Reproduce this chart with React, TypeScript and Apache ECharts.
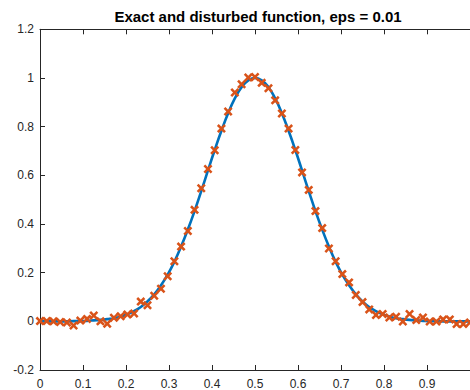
import React, { useEffect, useRef } from "react";
import * as echarts from "echarts";

const titleText = "Exact and disturbed function, eps = 0.01";

const sampleX = [
  0, 0.0156, 0.0313, 0.0469, 0.0625, 0.0781, 0.0938, 0.1094, 0.125, 0.1406,
  0.1563, 0.1719, 0.1875, 0.2031, 0.2188, 0.2344, 0.25, 0.2656, 0.2813, 0.2969,
  0.3125, 0.3281, 0.3438, 0.3594, 0.375, 0.3906, 0.4063, 0.4219, 0.4375, 0.4531,
  0.4688, 0.4844, 0.5, 0.5156, 0.5313, 0.5469, 0.5625, 0.5781, 0.5938, 0.6094,
  0.625, 0.6406, 0.6563, 0.6719, 0.6875, 0.7031, 0.7188, 0.7344, 0.75, 0.7656,
  0.7813, 0.7969, 0.8125, 0.8281, 0.8438, 0.8594, 0.875, 0.8906, 0.9063, 0.9219,
  0.9375, 0.9531, 0.9688, 0.9844, 1,
];

const exactY = [
  0.0, 0.0, 0.0, 0.0, 0.0, 0.001, 0.001, 0.002, 0.004, 0.006,
  0.009, 0.013, 0.02, 0.029, 0.042, 0.059, 0.082, 0.111, 0.148, 0.192,
  0.245, 0.307, 0.377, 0.453, 0.535, 0.62, 0.704, 0.783, 0.855, 0.916,
  0.962, 0.99, 1.0, 0.99, 0.962, 0.916, 0.855, 0.783, 0.704, 0.62,
  0.535, 0.453, 0.377, 0.307, 0.245, 0.192, 0.148, 0.111, 0.082, 0.059,
  0.042, 0.029, 0.02, 0.013, 0.009, 0.006, 0.004, 0.002, 0.001, 0.001,
  0.0, 0.0, 0.0, 0.0, 0.0,
];

const disturbedY = [
  0.001, 0.001, 0.0, -0.003, -0.005, -0.017, 0.003, 0.01, 0.024, 0.0,
  -0.01, 0.015, 0.021, 0.028, 0.032, 0.081, 0.066, 0.105, 0.134, 0.185,
  0.247, 0.307, 0.371, 0.458, 0.547, 0.626, 0.703, 0.792, 0.862, 0.94,
  0.974, 1.002, 1.004, 0.98, 0.958, 0.908, 0.854, 0.792, 0.704, 0.612,
  0.54, 0.453, 0.383, 0.299, 0.247, 0.194, 0.16, 0.108, 0.079, 0.049,
  0.026, 0.03, 0.016, 0.019, -0.001, 0.03, 0.005, 0.016, -0.001, -0.001,
  0.008, 0.008, -0.011, -0.011, -0.005,
];

const xTicks = { min: 0, max: 1, interval: 0.1 };
const yTicks = { min: -0.2, max: 1.2, interval: 0.2 };

const FONT = '"Liberation Sans", Arial, Helvetica, sans-serif';
const AXIS_COLOR = "#262626";
const X_MARK =
  "path://M0,2L2,0L5,3L8,0L10,2L7,5L10,8L8,10L5,7L2,10L0,8L3,5Z";

function fmt(v: number) {
  const r = Math.round(v * 10) / 10;
  return String(r);
}

export default function App() {
  const ref = useRef<HTMLDivElement>(null);
  useEffect(() => {
    if (!ref.current) return;
    const chart = echarts.init(ref.current, undefined, { renderer: "svg" });
    const axisCommon = {
      axisLine: { show: true, onZero: false, lineStyle: { color: AXIS_COLOR, width: 1 } },
      axisTick: { show: true, inside: true, length: 5, lineStyle: { color: AXIS_COLOR, width: 1 } },
      splitLine: { show: false },
    };
    chart.setOption({
      animation: false,
      backgroundColor: "#ffffff",
      title: {
        text: titleText,
        left: 253,
        top: 4,
        textAlign: "center",
        textStyle: { fontFamily: FONT, fontWeight: "bold", fontSize: 15, color: "#000000" },
      },
      grid: { left: 40, top: 29.3, right: -4.1, bottom: 18, containLabel: false },
      xAxis: [
        {
          type: "value",
          position: "bottom",
          min: xTicks.min,
          max: xTicks.max,
          interval: xTicks.interval,
          ...axisCommon,
          axisLabel: {
            show: true,
            margin: 8,
            color: AXIS_COLOR,
            fontFamily: FONT,
            fontSize: 12,
            formatter: (v: number) => fmt(v),
            showMaxLabel: false,
          },
        },
        {
          type: "value",
          position: "top",
          min: xTicks.min,
          max: xTicks.max,
          interval: xTicks.interval,
          ...axisCommon,
          axisLabel: { show: false },
        },
      ],
      yAxis: [
        {
          type: "value",
          position: "left",
          min: yTicks.min,
          max: yTicks.max,
          interval: yTicks.interval,
          ...axisCommon,
          axisLabel: {
            show: true,
            margin: 6,
            color: AXIS_COLOR,
            fontFamily: FONT,
            fontSize: 12,
            formatter: (v: number) => fmt(v),
          },
        },
      ],
      series: [
        {
          type: "line",
          name: "exact",
          data: sampleX.map((x, i) => [x, exactY[i]]),
          smooth: true,
          showSymbol: false,
          symbol: "none",
          lineStyle: { color: "#0072BD", width: 2.6 },
          z: 2,
        },
        {
          type: "scatter",
          name: "disturbed",
          data: sampleX.map((x, i) => [x, disturbedY[i]]),
          symbol: X_MARK,
          symbolSize: 9,
          itemStyle: { color: "#D95319", opacity: 1 },
          z: 3,
        },
      ],
    });
    return () => chart.dispose();
  }, []);
  return (
    <div
      ref={ref}
      style={{ position: "absolute", left: 0, top: 0, width: 470, height: 390 }}
    />
  );
}
